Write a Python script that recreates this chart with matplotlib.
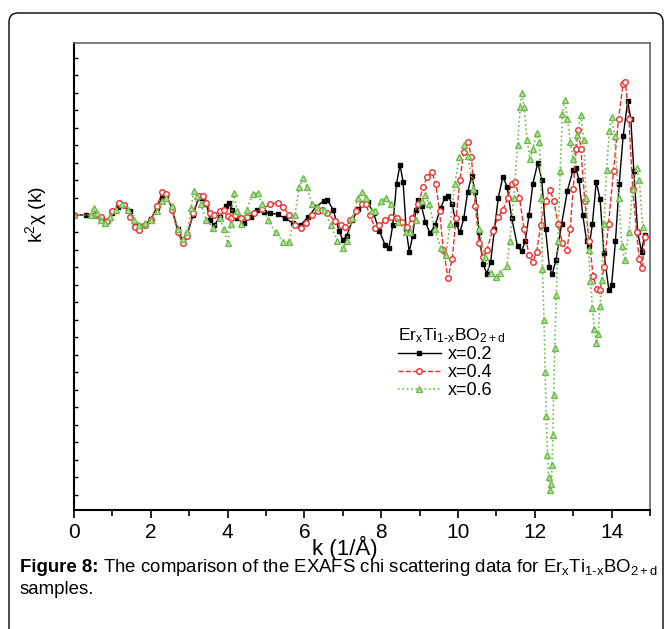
import numpy as np
import matplotlib
matplotlib.use('Agg')
import matplotlib.pyplot as plt
from matplotlib.patches import FancyBboxPatch
from matplotlib.transforms import IdentityTransform, offset_copy

plt.rcParams['font.family'] = ['Liberation Sans', 'DejaVu Sans']
plt.rcParams['mathtext.fontset'] = 'custom'
plt.rcParams['mathtext.rm'] = 'Liberation Sans'
plt.rcParams['mathtext.it'] = 'Liberation Sans'
plt.rcParams['mathtext.bf'] = 'Liberation Sans:bold'

# k (1/A) und k^2 chi(k)
k_02 = [0.0, 0.3, 0.55, 0.7, 0.85, 1.0, 1.15, 1.3, 1.45, 1.6, 1.7, 1.85, 2.0, 2.15, 2.3, 2.4, 2.55,
        2.7, 2.83, 2.95, 3.1, 3.25, 3.35, 3.45, 3.55, 3.65, 3.8, 3.95, 4.03, 4.12, 4.25, 4.42, 4.6,
        4.77, 4.95, 5.1, 5.3, 5.5, 5.7, 5.9, 6.1, 6.3, 6.5, 6.6, 6.75, 6.9, 7.0, 7.1, 7.25, 7.4,
        7.55, 7.65, 7.8, 7.95, 8.1, 8.2, 8.3, 8.4, 8.49, 8.57, 8.65, 8.73, 8.82, 8.9, 8.97, 9.05,
        9.15, 9.27, 9.4, 9.55, 9.65, 9.74, 9.85, 9.95, 10.05, 10.15, 10.25, 10.36, 10.45, 10.55,
        10.65, 10.75, 10.85, 10.95, 11.05, 11.17, 11.28, 11.4, 11.55, 11.66, 11.75, 11.85, 11.95,
        12.08, 12.18, 12.28, 12.38, 12.45, 12.55, 12.7, 12.85, 13.0, 13.07, 13.15, 13.25, 13.35,
        13.42, 13.5, 13.6, 13.7, 13.8, 13.93, 14.0, 14.1, 14.2, 14.3, 14.42, 14.5, 14.58, 14.68,
        14.78, 14.86]
chi_02 = [0, 0, 0.0, -0.2, -0.35, 0.1, 0.45, 0.55, 0.2, -0.5, -0.65, -0.55, -0.25, 0.4, 1.0, 1.1,
          0.4, -0.8, -1.45, -1.1, 0.0, 1.0, 1.0, 0.6, -0.3, -0.6, -0.1, 0.5, 0.7, 0.3, -0.2, -0.45,
          -0.1, 0.3, 0.15, 0.1, 0.05, -0.2, -0.45, -0.57, -0.1, 0.45, 0.8, 0.86, 0.3, -0.9, -1.43,
          -1.2, -0.3, 0.35, 0.7, 0.74, 0.1, -0.9, -1.7, -1.9, -0.6, 1.8, 2.86, 1.9, -0.8, -2.1, -1.2,
          0.3, 0.86, 0.5, -0.4, -1.04, -0.6, 0.4, 0.95, 1.1, 0.6, -0.5, -1.0, -0.2, 1.3, 2.25, 1.3,
          -1.0, -2.8, -3.35, -2.7, -0.8, 1.0, 2.2, 1.6, -0.2, -1.8, -2.05, -1.5, 0.0, 1.8, 3.0, 2.0,
          -0.8, -3.0, -3.4, -2.6, -0.5, 1.4, 2.6, 2.7, 2.0, 0.0, -1.5, -1.75, -0.5, 1.9, 0.9, -2.2,
          -4.3, -4.0, -1.5, 1.8, 4.5, 6.5, 5.5, 2.5, -1.0, -2.1, -1.14]

k_04 = [0.0, 0.55, 0.7, 0.85, 1.0, 1.17, 1.3, 1.45, 1.6, 1.7, 1.85, 2.0, 2.15, 2.3, 2.4, 2.55, 2.7,
        2.83, 2.95, 3.1, 3.25, 3.35, 3.45, 3.55, 3.65, 3.8, 3.9, 4.0, 4.1, 4.2, 4.35, 4.5, 4.7, 4.9,
        5.1, 5.3, 5.45, 5.6, 5.75, 5.9, 6.05, 6.2, 6.35, 6.47, 6.6, 6.8, 6.95, 7.06, 7.2, 7.35, 7.5,
        7.6, 7.7, 7.84, 7.95, 8.1, 8.25, 8.4, 8.55, 8.67, 8.8, 8.95, 9.1, 9.2, 9.32, 9.42, 9.52,
        9.62, 9.74, 9.85, 9.95, 10.05, 10.15, 10.26, 10.35, 10.45, 10.55, 10.65, 10.75, 10.9,
        11.05, 11.17, 11.3, 11.4, 11.48, 11.6, 11.72, 11.85, 11.95, 12.05, 12.15, 12.28, 12.39,
        12.5, 12.6, 12.72, 12.83, 12.92, 13.0, 13.08, 13.13, 13.2, 13.3, 13.42, 13.52, 13.62,
        13.7, 13.8, 13.92, 14.05, 14.18, 14.3, 14.36, 14.45, 14.55, 14.65, 14.72, 14.8, 14.86]
chi_04 = [0, 0, -0.1, -0.35, 0.2, 0.7, 0.55, -0.1, -0.7, -0.85, -0.6, -0.3, 0.5, 1.3, 1.2, 0.3,
          -1.0, -1.6, -1.2, 0.1, 1.1, 1.1, 0.7, 0.1, 0.0, 0.25, 0.3, -0.05, -0.2, 0.0, -0.15, -0.1,
          0.1, 0.35, 0.6, 0.69, 0.45, 0.0, -0.55, -0.76, -0.45, 0.0, 0.25, 0.29, 0.1, -0.35, -0.6,
          -0.67, -0.3, 0.2, 0.6, 0.6, 0.0, -0.74, -0.6, -0.3, -0.1, -0.2, -0.4, -0.67, -0.2, 0.6,
          1.6, 2.2, 2.46, 1.8, 0.2, -2.0, -3.6, -2.5, -0.2, 2.0, 3.6, 4.2, 3.3, 0.5, -1.6, -2.4,
          -2.0, -0.9, -0.1, 0.3, 1.0, 1.8, 1.9, 1.0, -0.8, -2.3, -2.7, -2.1, -0.6, 0.8, 1.43, 0.8,
          -0.5, -1.6, -2.0, -0.8, 1.5, 3.8, 4.86, 3.8, 0.8, -1.5, -3.5, -4.25, -4.3, -3.0, -0.5, 2.5,
          5.5, 7.5, 7.6, 5.5, 1.5, -1.0, -2.5, -3.05, -1.24]

k_06 = [0.0, 0.45, 0.52, 0.6, 0.7, 0.8, 0.95, 1.1, 1.25, 1.4, 1.55, 1.7, 1.85, 2.0, 2.15, 2.3, 2.4,
        2.55, 2.7, 2.83, 2.95, 3.05, 3.12, 3.2, 3.3, 3.45, 3.63, 3.8, 3.9, 4.0, 4.08, 4.16, 4.25,
        4.35, 4.5, 4.65, 4.78, 4.9, 5.05, 5.25, 5.45, 5.6, 5.75, 5.87, 5.97, 6.07, 6.2, 6.34, 6.5,
        6.7, 6.85, 7.0, 7.1, 7.25, 7.4, 7.5, 7.6, 7.75, 7.85, 8.0, 8.12, 8.25, 8.45, 8.65, 8.75,
        8.9, 9.05, 9.14, 9.25, 9.4, 9.55, 9.68, 9.8, 9.92, 10.03, 10.15, 10.25, 10.4, 10.55, 10.7,
        10.85, 10.98, 11.1, 11.27, 11.35, 11.45, 11.55, 11.62, 11.66, 11.72, 11.8, 11.87, 11.95,
        12.05, 12.12, 12.17, 12.2, 12.24, 12.27, 12.3, 12.33, 12.36, 12.39, 12.43, 12.45, 12.47,
        12.49, 12.52, 12.56, 12.6, 12.66, 12.72, 12.78, 12.85, 12.92, 13.0, 13.1, 13.2, 13.27,
        13.34, 13.4, 13.45, 13.5, 13.55, 13.6, 13.65, 13.7, 13.74, 13.8, 13.87, 13.94, 14.0,
        14.08, 14.18, 14.27, 14.34, 14.45, 14.55, 14.65, 14.72, 14.81]
chi_06 = [0, 0, 0.4, 0.1, -0.3, -0.45, -0.1, 0.3, 0.6, 0.3, -0.3, -0.55, -0.45, -0.3, 0.2, 0.8,
          1.0, 0.5, -0.8, -1.4, -1.0, 0.4, 1.4, 1.1, 0.6, -0.3, -0.75, -0.2, -0.8, -1.6, -0.5, 1.25,
          0.2, -0.5, 0.3, 1.2, 1.26, 0.6, -0.3, -1.0, -1.55, -1.54, 0.0, 1.6, 2.1, 1.6, 0.6, 0.46,
          0.3, -0.6, -1.5, -1.9, -1.5, -0.2, 1.0, 1.3, 1.0, 0.2, 0.2, 0.8, 1.0, 0.6, -0.4, -0.95,
          -1.0, -0.3, 0.8, 1.14, 0.6, -0.8, -1.9, -2.3, -0.5, 1.8, 3.3, 4.0, 3.4, 1.5, -0.8, -2.4,
          -3.3, -3.54, -3.3, -2.9, -1.5, 1.0, 4.0, 6.2, 7.0, 6.2, 4.3, 3.2, 3.8, 4.7, 4.2, 1.0,
          -3.1, -6.0, -9.0, -11.5, -13.7, -15.0, -15.7, -15.4, -14.3, -12.6, -10.3, -7.6, -4.6,
          -1.5, 2.5, 5.8, 6.57, 5.5, 4.2, 3.2, 4.6, 5.7, 4.3, 1.0, -2.0, -3.8, -5.3, -6.5, -7.3,
          -6.8, -5.2, -3.7, -0.5, 2.6, 4.8, 5.6, 4.5, 1.0, -1.8, -2.6, -1.0, 1.5, 2.7, 2.0, -0.7]

series_labels = ['x=0.2', 'x=0.4', 'x=0.6']
formula = 'Er$_\\mathrm{x}$Ti$_\\mathrm{1\u2010x}$BO$_\\mathrm{2+d}$'

fig = plt.figure(figsize=(6.65, 6.29), dpi=100)
ax = fig.add_axes([74 / 665, (629 - 510) / 629, 576 / 665, 467 / 629])

ax.plot(k_02, chi_02, '-', color='black', lw=1.0, marker='s', ms=3.5,
        mfc='black', mec='black', label=series_labels[0])
ax.plot(k_04, chi_04, '--', color='#ee2a2a', lw=1.0, marker='o', ms=4.0,
        mfc='white', mec='#ee2a2a', mew=1.0, label=series_labels[1])
ax.plot(k_06, chi_06, ':', color='#6dbb4a', lw=1.2, marker='^', ms=5.0,
        mfc='#b9e0a2', mec='#6dbb4a', mew=1.0, label=series_labels[2])

ax.set_xlim(0, 15)
ax.set_ylim(-16.86, 9.83)
ax.set_xticks(np.arange(0, 15, 2))
ax.set_xticks(np.arange(1, 16, 2), minor=True)
ax.set_yticks(np.arange(-16, 10, 1))
ax.tick_params(axis='x', which='major', direction='out', length=6, width=1.2, labelsize=15, pad=3)
ax.tick_params(axis='x', which='minor', direction='out', length=4, width=1.2)
ax.tick_params(axis='y', which='major', direction='in', length=3, width=1.0, labelleft=False)

for side in ['left', 'bottom']:
    ax.spines[side].set_linewidth(1.5)
for side in ['top', 'right']:
    ax.spines[side].set_color('#666666')
    ax.spines[side].set_linewidth(1.2)

ax.set_xlabel('k (1/\u00c5)', fontsize=16)
ax.xaxis.set_label_coords(0.47, -0.055)
ax.set_ylabel('k$^2$\u03c7 (k)', fontsize=14)
ax.yaxis.set_label_coords(-0.044, 0.632)

leg = ax.legend(loc='upper left', bbox_to_anchor=(0.54, 0.42), frameon=False,
                title=formula, alignment='left',
                fontsize=13, title_fontsize=12.5, numpoints=1, handlelength=2.4,
                handletextpad=0.4, labelspacing=0.05, borderpad=0.2)

# Bildunterschrift: fetter Teil und Rest getrennt
cap_y = 1 - 568 / 629
t_bold = fig.text(20 / 665, cap_y, 'Figure 8:', fontsize=13.4, fontweight='bold',
                  va='center', ha='left')
fig.canvas.draw()
w_bold = t_bold.get_window_extent().width
fig.text(20 / 665, cap_y, ' The comparison of the EXAFS chi scattering data for ' + formula,
         fontsize=13.4, va='center', ha='left',
         transform=offset_copy(fig.transFigure, fig=fig, x=w_bold, units='dots'))
fig.text(20 / 665, 1 - 590 / 629, 'samples.', fontsize=13.4, va='center', ha='left')

frame = FancyBboxPatch((9, -20), 654, 636, boxstyle='round,pad=0,rounding_size=9',
                       transform=IdentityTransform(), fill=False, ec='black', lw=1.0)
fig.patches.append(frame)

fig.savefig('out.png', dpi=100)
